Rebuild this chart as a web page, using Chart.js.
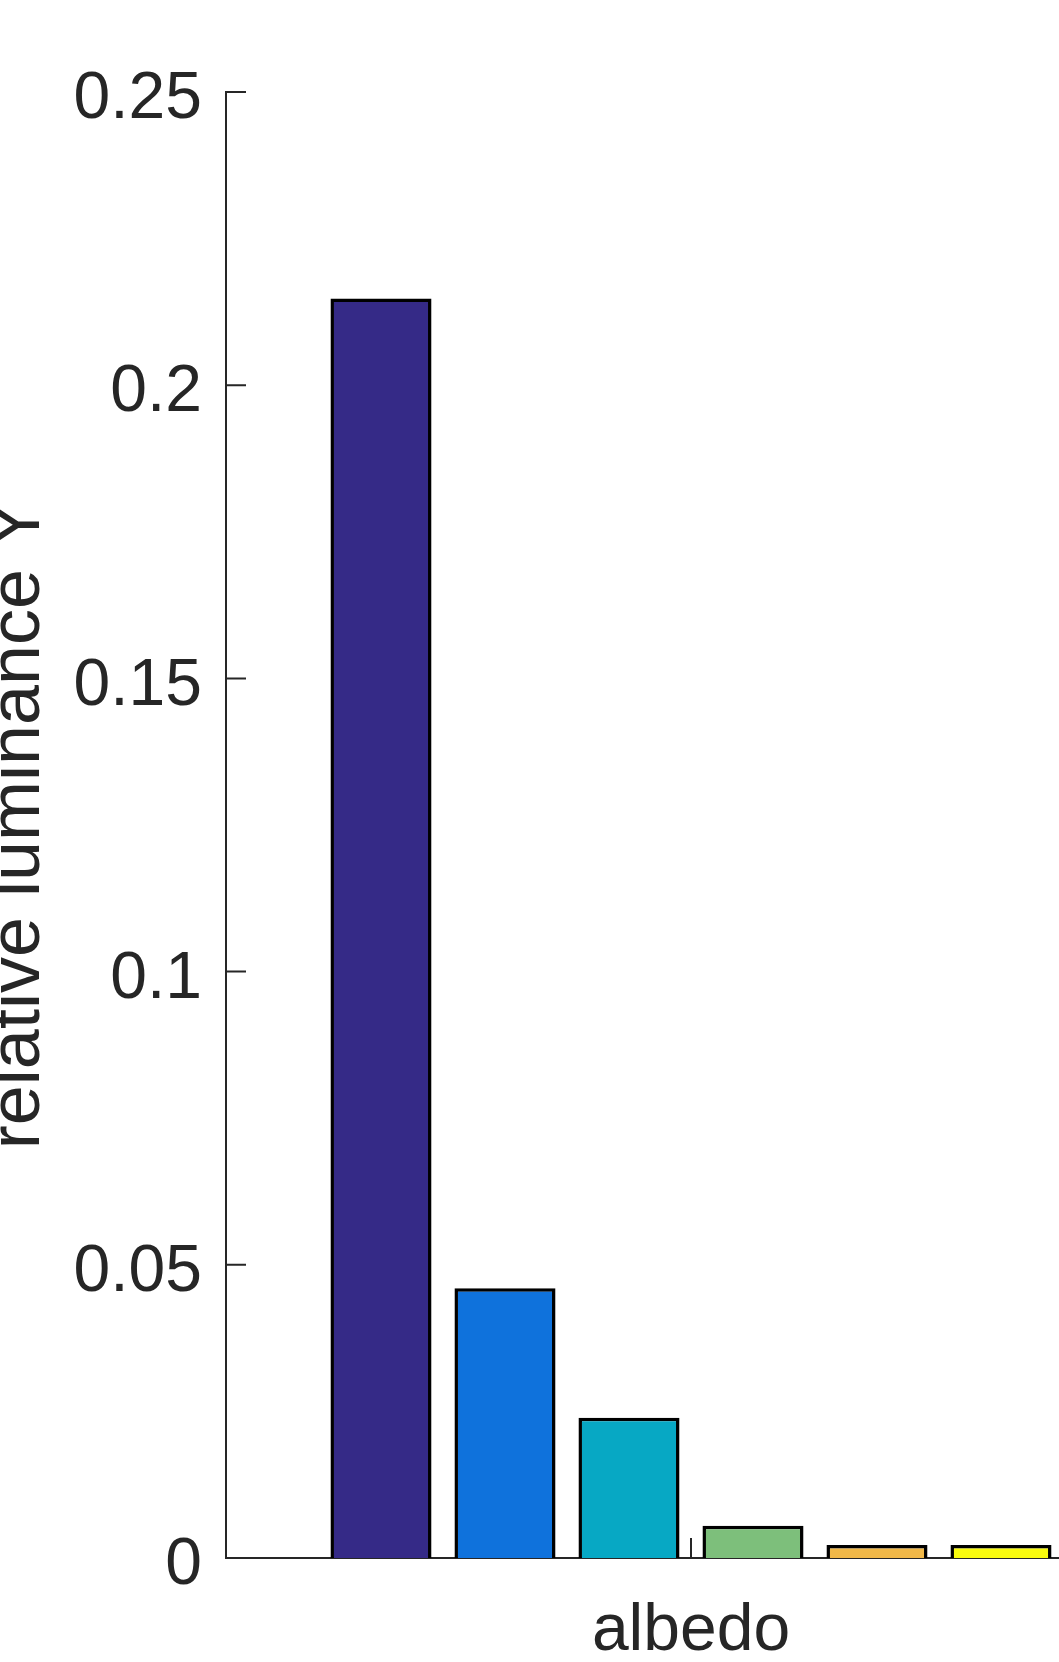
<!DOCTYPE html>
<html>
<head>
<meta charset="utf-8">
<script src="https://cdn.jsdelivr.net/npm/chart.js@4"></script>
<style>
  html, body { margin: 0; padding: 0; background: #fff; overflow: hidden; }
  canvas { display: block; }
</style>
</head>
<body>
<canvas id="lumChart" width="1160" height="1662"></canvas>
<script>
const categories = ["albedo"];
const seriesNames = ["s1", "s2", "s3", "s4", "s5", "s6"];
const seriesValues = [0.2148, 0.0460, 0.0239, 0.0055, 0.0022, 0.0022];
const seriesColors = ["#352A87", "#0F72DC", "#07A8C4", "#7DBF7B", "#F1B848", "#F9FB0E"];
const yTickValues = [0, 0.05, 0.1, 0.15, 0.2, 0.25];
const yTickLabels = ["0", "0.05", "0.1", "0.15", "0.2", "0.25"];
const yTitle = "relative luminance Y";

const axisColor = "#262626";
const fontFamily = "'Liberation Sans', Arial, Helvetica, sans-serif";

// MATLAB-style ticks pointing into the plot
const inwardTicks = {
  id: "inwardTicks",
  afterDraw(chart) {
    const ctx = chart.ctx;
    const area = chart.chartArea;
    const x = chart.scales.x;
    const y = chart.scales.y;
    ctx.save();
    ctx.strokeStyle = axisColor;
    ctx.lineWidth = 2;
    ctx.beginPath();
    y.ticks.forEach((t, i) => {
      const py = y.getPixelForTick(i);
      ctx.moveTo(area.left, py);
      ctx.lineTo(area.left + 20, py);
    });
    x.ticks.forEach((t, i) => {
      const px = x.getPixelForTick(i);
      ctx.moveTo(px, area.bottom);
      ctx.lineTo(px, area.bottom - 20);
    });
    ctx.stroke();
    ctx.restore();
  }
};

const ctx = document.getElementById("lumChart").getContext("2d");

new Chart(ctx, {
  type: "bar",
  data: {
    labels: categories,
    datasets: seriesValues.map((v, i) => ({
      label: seriesNames[i],
      data: [v],
      backgroundColor: seriesColors[i],
      borderColor: "#000000",
      borderWidth: 3.5,
      categoryPercentage: 0.8,
      barPercentage: 0.815,
    })),
  },
  options: {
    responsive: false,
    animation: false,
    events: [],
    layout: { padding: { top: 92, right: 4, left: 0, bottom: 0 } },
    plugins: {
      legend: { display: false },
      tooltip: { enabled: false },
    },
    scales: {
      x: {
        z: 1,
        grid: { display: false },
        border: { display: true, color: axisColor, width: 2 },
        ticks: {
          color: axisColor,
          padding: 33,
          font: { family: fontFamily, size: 66, lineHeight: 1 },
        },
        afterFit: s => { s.height = 104; },
      },
      y: {
        min: 0,
        max: 0.25,
        z: 1,
        grid: { display: false },
        border: { display: true, color: axisColor, width: 2 },
        afterBuildTicks: s => { s.ticks = yTickValues.map(v => ({ value: v })); },
        ticks: {
          color: axisColor,
          padding: 16,
          labelOffset: 8,
          font: { family: fontFamily, size: 66, lineHeight: 1 },
          callback: (v, i) => yTickLabels[i],
        },
        title: {
          display: true,
          text: yTitle,
          color: axisColor,
          padding: { top: -17, bottom: 0 },
          font: { family: fontFamily, size: 72, lineHeight: 1 },
        },
        afterFit: s => { s.width = 226; },
      },
    },
  },
  plugins: [inwardTicks],
});
</script>
</body>
</html>
